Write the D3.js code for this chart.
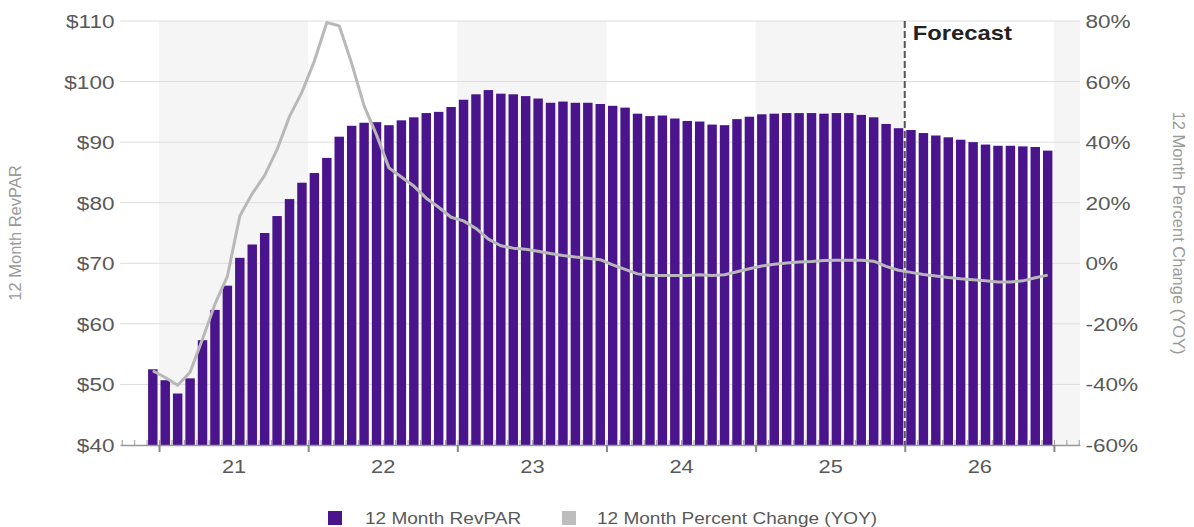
<!DOCTYPE html>
<html>
<head>
<meta charset="utf-8">
<script src="https://cdn.jsdelivr.net/npm/d3@7"></script>
<style>
    body { margin: 0; background: #fff; }
    svg { display: block; font-family: "Liberation Sans", Arial, sans-serif; }
</style>
</head>
<body>
<div id="chart"></div>
<script>
// months, Dec 2020 .. Dec 2026
const months = [
    "2020-12",
    "2021-01", "2021-02", "2021-03", "2021-04", "2021-05", "2021-06", "2021-07", "2021-08", "2021-09", "2021-10", "2021-11", "2021-12",
    "2022-01", "2022-02", "2022-03", "2022-04", "2022-05", "2022-06", "2022-07", "2022-08", "2022-09", "2022-10", "2022-11", "2022-12",
    "2023-01", "2023-02", "2023-03", "2023-04", "2023-05", "2023-06", "2023-07", "2023-08", "2023-09", "2023-10", "2023-11", "2023-12",
    "2024-01", "2024-02", "2024-03", "2024-04", "2024-05", "2024-06", "2024-07", "2024-08", "2024-09", "2024-10", "2024-11", "2024-12",
    "2025-01", "2025-02", "2025-03", "2025-04", "2025-05", "2025-06", "2025-07", "2025-08", "2025-09", "2025-10", "2025-11", "2025-12",
    "2026-01", "2026-02", "2026-03", "2026-04", "2026-05", "2026-06", "2026-07", "2026-08", "2026-09", "2026-10", "2026-11", "2026-12"
];

// 12 month RevPAR ($)
const revpar = [
    52.5,
    50.7, 48.5, 51.0, 57.3, 62.3, 66.3, 70.9, 73.1, 75.0, 77.8, 80.6, 83.3,
    84.9, 87.4, 90.9, 92.7, 93.2, 93.3, 92.8, 93.6, 94.1, 94.8, 95.0, 95.8,
    97.0, 97.9, 98.6, 98.0, 97.9, 97.6, 97.2, 96.5, 96.7, 96.5, 96.5, 96.3,
    96.0, 95.7, 94.7, 94.3, 94.4, 93.9, 93.5, 93.4, 92.9, 92.8, 93.8, 94.2,
    94.6, 94.7, 94.8, 94.8, 94.8, 94.7, 94.8, 94.8, 94.5, 94.1, 93.0, 92.3,
    92.0, 91.5, 91.1, 90.8, 90.4, 90.0, 89.6, 89.4, 89.4, 89.3, 89.2, 88.6
];

// 12 month percent change (YOY, %)
const yoyChange = [
    -35.5,
    -37.7, -40.3, -36.0, -25.0, -13.5, -4.3, 15.6, 23.0, 29.0, 37.6, 48.5, 56.5,
    66.8, 79.5, 78.4, 66.0, 52.0, 42.4, 31.5, 28.5, 25.5, 21.5, 18.5, 15.2,
    14.0, 11.5, 8.0, 5.8, 5.0, 4.6, 4.0, 3.2, 2.6, 2.1, 1.7, 1.2,
    -0.5, -2.0, -3.5, -4.0, -4.0, -4.0, -4.0, -3.8, -4.0, -3.8, -2.8, -1.8,
    -0.9, -0.3, 0.1, 0.4, 0.6, 0.9, 1.0, 1.0, 1.0, 0.7, -1.0, -2.3,
    -3.0, -3.7, -4.2, -4.7, -5.1, -5.4, -5.8, -6.2, -6.2, -5.8, -4.8, -3.9
];

const yearLabels = ["21", "22", "23", "24", "25", "26"];
const leftTicks = [40, 50, 60, 70, 80, 90, 100, 110];
const rightTicks = [-60, -40, -20, 0, 20, 40, 60, 80];
const forecastStart = "2026-01";
const forecastLabel = "Forecast";
const leftTitle = "12 Month RevPAR";
const rightTitle = "12 Month Percent Change (YOY)";
const legendItems = ["12 Month RevPAR", "12 Month Percent Change (YOY)"];

const width = 1194;
const height = 527;
const plot = { left: 120, right: 1080, top: 21, bottom: 445 };

const purple = "#4a148c";
const lineGray = "#b8b8b8";
const textGray = "#595959";

const svg = d3.select("#chart")
    .append("svg")
    .attr("width", width)
    .attr("height", height);

// x runs over month index, bars centred on integers
const xScale = d3.scaleLinear().domain([-2.64, 74.6]).range([plot.left, plot.right]);
const yLeft = d3.scaleLinear().domain([40, 110]).range([plot.bottom, plot.top]);
const yRight = d3.scaleLinear().domain([-60, 80]).range([plot.bottom, plot.top]);

const slot = xScale(1) - xScale(0);
const barWidth = slot * 0.76;

// year boundaries
const yearStarts = yearLabels.map(y => months.indexOf("20" + y + "-01") - 0.5);
const lastEdge = months.length - 0.5;
const boundaries = yearStarts.concat([lastEdge]);

// alternating year bands
const bands = [];
boundaries.forEach((b, i) => {
    if (i % 2 === 0) {
        const x0 = xScale(b);
        const x1 = Math.min(xScale(b + 12), plot.right);
        bands.push([x0, x1]);
    }
});

svg.selectAll(".band")
    .data(bands)
    .enter().append("rect")
    .attr("class", "band")
    .attr("x", d => d[0])
    .attr("y", plot.top)
    .attr("width", d => d[1] - d[0])
    .attr("height", plot.bottom - plot.top)
    .attr("fill", "#f5f5f5");

// grid
svg.selectAll(".grid")
    .data(leftTicks.slice(1))
    .enter().append("line")
    .attr("class", "grid")
    .attr("x1", plot.left)
    .attr("x2", plot.right)
    .attr("y1", d => yLeft(d))
    .attr("y2", d => yLeft(d))
    .attr("stroke", "#dcdcdc")
    .attr("stroke-width", 1);

// minor month ticks (mostly hidden behind bars)
const minorAxis = svg.append("g")
    .attr("transform", `translate(0,${plot.bottom})`)
    .call(d3.axisTop(xScale).tickValues(d3.range(-2.5, 75, 1)).tickSize(5).tickFormat(""));
minorAxis.select(".domain").remove();
minorAxis.selectAll("line").attr("stroke", "#999");

// bars
svg.selectAll(".bar")
    .data(revpar)
    .enter().append("rect")
    .attr("class", "bar")
    .attr("x", (d, i) => xScale(i) - barWidth / 2)
    .attr("y", d => yLeft(d))
    .attr("width", barWidth)
    .attr("height", d => yLeft(40) - yLeft(d))
    .attr("fill", purple);

// x axis line + year ticks
const xAxis = svg.append("g")
    .attr("transform", `translate(0,${plot.bottom})`)
    .call(d3.axisBottom(xScale).tickValues(boundaries).tickSize(7).tickSizeOuter(0).tickFormat(""));
xAxis.select(".domain").attr("stroke", "#999").attr("stroke-width", 1.5);
xAxis.selectAll(".tick line").attr("stroke", "#888").attr("stroke-width", 2);

// year labels
const yearAxis = svg.append("g")
    .attr("transform", `translate(0,${plot.bottom})`)
    .call(d3.axisBottom(xScale)
        .tickValues(yearStarts.map(b => b + 6))
        .tickSize(0)
        .tickPadding(15)
        .tickFormat((d, i) => yearLabels[i]));
yearAxis.select(".domain").remove();
yearAxis.selectAll("text")
    .attr("fill", textGray)
    .attr("font-size", "18.5px")
    .attr("font-family", "Liberation Sans, Arial, sans-serif")
    .attr("transform", "scale(1.18,1)");

// left axis
const leftAxis = svg.append("g")
    .attr("transform", `translate(${plot.left},0)`)
    .call(d3.axisLeft(yLeft).tickValues(leftTicks).tickSize(0).tickFormat(d => "$" + d));
leftAxis.select(".domain").remove();
leftAxis.selectAll("text")
    .attr("x", -4.5)
    .attr("dy", "0.35em")
    .attr("fill", textGray)
    .attr("font-size", "18.5px")
    .attr("font-family", "Liberation Sans, Arial, sans-serif")
    .attr("transform", "scale(1.22,1)");

// right axis
const rightAxis = svg.append("g")
    .attr("transform", `translate(${plot.right},0)`)
    .call(d3.axisRight(yRight).tickValues(rightTicks).tickSize(0).tickFormat(d => d + "%"));
rightAxis.select(".domain").remove();
rightAxis.selectAll("text")
    .attr("x", 4.5)
    .attr("dy", "0.35em")
    .attr("fill", textGray)
    .attr("font-size", "18.5px")
    .attr("font-family", "Liberation Sans, Arial, sans-serif")
    .attr("transform", "scale(1.22,1)");

// forecast marker
const xForecast = xScale(months.indexOf(forecastStart) - 0.5);
svg.append("line")
    .attr("x1", xForecast)
    .attr("x2", xForecast)
    .attr("y1", plot.top)
    .attr("y2", plot.bottom)
    .attr("stroke", "#555")
    .attr("stroke-width", 2)
    .attr("stroke-dasharray", "7,3");

svg.append("text")
    .attr("transform", `translate(${xForecast + 8},40) scale(1.22,1)`)
    .attr("font-size", "19.5px")
    .attr("font-weight", "bold")
    .attr("fill", "#222")
    .text(forecastLabel);

// YOY line
const line = d3.line()
    .x((d, i) => xScale(i))
    .y(d => yRight(d));

svg.append("path")
    .datum(yoyChange)
    .attr("d", line)
    .attr("fill", "none")
    .attr("stroke", lineGray)
    .attr("stroke-width", 3)
    .attr("stroke-linejoin", "round");

// axis titles
svg.append("text")
    .attr("transform", `translate(21,${(plot.top + plot.bottom) / 2}) rotate(-90)`)
    .attr("text-anchor", "middle")
    .attr("font-size", "16.5px")
    .attr("fill", "#9a9a9a")
    .text(leftTitle);

svg.append("text")
    .attr("transform", `translate(1173,${(plot.top + plot.bottom) / 2}) rotate(90)`)
    .attr("text-anchor", "middle")
    .attr("font-size", "16.5px")
    .attr("fill", "#9a9a9a")
    .text(rightTitle);

// legend
const legendPos = [{ sx: 328, tx: 365, color: purple }, { sx: 562, tx: 597, color: "#bdbdbd" }];
const legend = svg.selectAll(".legend")
    .data(legendItems)
    .enter().append("g")
    .attr("class", "legend");

legend.append("rect")
    .attr("x", (d, i) => legendPos[i].sx)
    .attr("y", 511)
    .attr("width", 14)
    .attr("height", 14)
    .attr("fill", (d, i) => legendPos[i].color);

legend.append("text")
    .attr("transform", (d, i) => `translate(${legendPos[i].tx},524) scale(1.12,1)`)
    .attr("font-size", "17px")
    .attr("fill", textGray)
    .text(d => d);
</script>
</body>
</html>
